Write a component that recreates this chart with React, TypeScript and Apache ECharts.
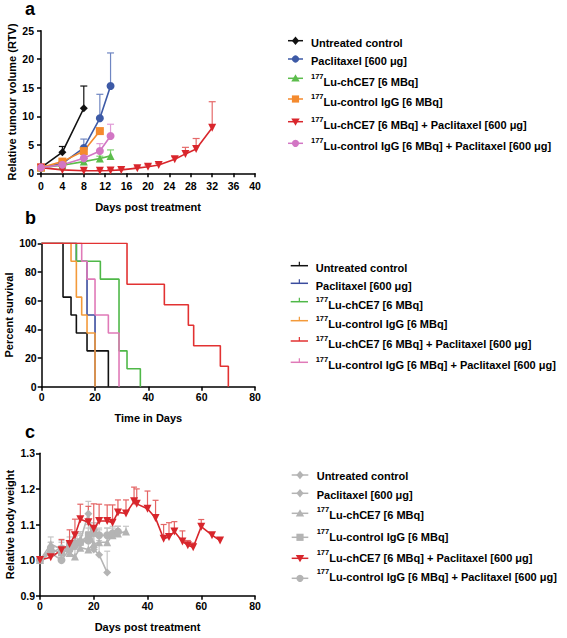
import React, { useEffect, useRef } from "react";
import * as echarts from "echarts";

// ---------- Panel a: relative tumour volume ----------
const daysA = [0, 4, 8, 11, 13];
const untreatedA = [1.0, 3.7, 11.4];
const untreatedAErr = [0.2, 1.0, 3.9];
const paclitaxelA = [1.0, 1.75, 4.45, 9.65, 15.3];
const paclitaxelAErr = [0.1, 0.3, 1.55, 4.2, 5.8];
const chCE7A = [1.0, 1.4, 2.05, 2.6, 3.05];
const chCE7AErr = [0.1, 0.2, 0.5, 0.4, 1.05];
const igGA = [1.0, 2.05, 3.9, 7.4];
const igGAErr = [0.1, 0.3, 0.6, 0.3];
const igGPacA = [1.0, 1.5, 2.65, 3.9, 6.55];
const igGPacAErr = [0.1, 0.2, 0.6, 1.3, 2.05];
const daysRedA = [0, 4, 8, 11, 13, 15, 18, 20, 22, 25, 27, 29, 32];
const chCE7PacA = [1.0, 0.6, 0.45, 0.45, 0.5, 0.6, 0.9, 1.15, 1.45, 2.45, 3.4, 4.25, 8.0];
const chCE7PacAErr = [0.1, 0.1, 0.1, 0.1, 0.1, 0.15, 0.2, 0.3, 0.3, 0.45, 1.15, 1.85, 4.55];
const xTicksA = { min: 0, max: 40, interval: 4 };
const yTicksA = { min: 0, max: 25, interval: 5 };

// ---------- Panel b: Kaplan-Meier survival ----------
const kmUntreatedT = [0, 8, 11, 13, 17, 25];
const kmUntreatedS = [100, 62.5, 50, 37.5, 25, 0];
const kmPaclitaxelT = [0, 13, 17, 20];
const kmPaclitaxelS = [100, 87.5, 50, 0];
const kmChCE7T = [0, 13, 22, 29, 32, 37];
const kmChCE7S = [100, 87.5, 75, 25, 12.5, 0];
const kmIgGT = [0, 11, 13, 15, 17, 20];
const kmIgGS = [100, 87.5, 62.5, 50, 37.5, 0];
const kmChCE7PacT = [0, 32, 46, 55, 57, 67, 70];
const kmChCE7PacS = [100, 71.4, 57.1, 42.9, 28.6, 14.3, 0];
const kmIgGPacT = [0, 15, 17, 20, 25, 29];
const kmIgGPacS = [100, 87.5, 75, 50, 37.5, 0];

// ---------- Panel c: relative body weight ----------
const daysUntreatedC = [0, 4, 8, 11, 13, 15, 18, 20, 22, 25];
const untreatedC = [1.0, 1.03, 1.02, 1.035, 1.04, 1.055, 1.13, 1.03, 1.015, 0.965];
const untreatedCErr = [0.005, 0.02, 0.02, 0.02, 0.02, 0.02, 0.035, 0.06, 0.04, 0.06];
const daysPaclitaxelC = [0, 4, 8, 11, 13, 15, 18, 20];
const paclitaxelC = [1.0, 1.02, 1.035, 1.03, 1.05, 1.05, 1.06, 1.085];
const paclitaxelCErr = [0.005, 0.02, 0.02, 0.02, 0.025, 0.03, 0.03, 0.02];
const daysChCE7C = [0, 4, 8, 11, 13, 15, 18, 20, 22, 25, 27, 29, 32];
const chCE7C = [1.0, 1.045, 1.03, 1.02, 1.01, 1.035, 1.03, 1.045, 1.05, 1.05, 1.07, 1.075, 1.08];
const chCE7CErr = [0.005, 0.02, 0.02, 0.02, 0.02, 0.02, 0.02, 0.03, 0.035, 0.04, 0.02, 0.02, 0.015];
const daysIgGC = [0, 4, 8, 11, 13, 15, 18, 20];
const igGC = [1.0, 1.03, 1.02, 1.04, 1.045, 1.05, 1.07, 1.075];
const igGCErr = [0.005, 0.02, 0.02, 0.025, 0.02, 0.03, 0.03, 0.02];
const daysIgGPacC = [0, 4, 8, 11, 13, 15, 18, 20, 22, 25, 27, 29];
const igGPacC = [1.0, 1.02, 1.0, 1.03, 1.04, 1.05, 1.055, 1.085, 1.07, 1.07, 1.075, 1.08];
const igGPacCErr = [0.005, 0.02, 0.02, 0.02, 0.02, 0.02, 0.025, 0.02, 0.02, 0.02, 0.02, 0.015];
const daysChCE7PacC = [0, 4, 8, 11, 13, 15, 18, 20, 22, 25, 27, 29, 32, 35, 36, 40, 43, 46, 48, 50, 53, 55, 57, 60, 64, 67];
const chCE7PacC = [1.0, 1.008, 1.028, 1.045, 1.07, 1.115, 1.106, 1.088, 1.11, 1.11, 1.105, 1.134, 1.131, 1.165, 1.158, 1.144, 1.118, 1.06, 1.065, 1.08, 1.052, 1.042, 1.036, 1.094, 1.07, 1.055];
const chCE7PacCErr = [0.005, 0.01, 0.03, 0.04, 0.045, 0.042, 0.045, 0.07, 0.047, 0.045, 0.05, 0.035, 0.038, 0.04, 0.042, 0.05, 0.05, 0.04, 0.04, 0.028, 0.03, 0.013, 0.012, 0.02, 0, 0];

// ---------- Legend labels ----------
const groupLabels = [
  "Untreated control",
  "Paclitaxel [600 μg]",
  "{s|177}{t|Lu-chCE7 [6 MBq]}",
  "{s|177}{t|Lu-control IgG [6 MBq]}",
  "{s|177}{t|Lu-chCE7 [6 MBq] + Paclitaxel [600 μg]}",
  "{s|177}{t|Lu-control IgG [6 MBq] + Paclitaxel [600 μg]}",
];

const FONT = 'Arial, "Liberation Sans", Helvetica, sans-serif';
const COL_A = ["#111111", "#3d5aa6", "#5cbd4c", "#f48a2e", "#d9262c", "#d276c4"];
const COL_B = ["#111111", "#3b4c9e", "#4fb848", "#f39a3a", "#e23232", "#e07ab8"];
const GRAY = "#b4b4b4";
const RED_C = "#d8262c";

type Pt = [number, number];
const zip = (xs: number[], ys: number[]): Pt[] => ys.map((y, i) => [xs[i], y]);
const zip3 = (xs: number[], ys: number[], es: number[]) => ys.map((y, i) => [xs[i], y, es[i]]);

function errSeries(idx: number, data: number[][], color: string, cap: number) {
  return {
    type: "custom",
    xAxisIndex: idx,
    yAxisIndex: idx,
    silent: true,
    z: 1,
    encode: { x: 0, y: 1 },
    data,
    renderItem: (_p: any, api: any) => {
      const x = api.value(0);
      const y = api.value(1);
      const e = api.value(2);
      if (!(e > 0)) return null;
      const p0 = api.coord([x, y]);
      const p1 = api.coord([x, y + e]);
      return {
        type: "group",
        children: [
          { type: "line", shape: { x1: p0[0], y1: p0[1], x2: p1[0], y2: p1[1] }, style: { stroke: color, lineWidth: 1.2 } },
          { type: "line", shape: { x1: p1[0] - cap, y1: p1[1], x2: p1[0] + cap, y2: p1[1] }, style: { stroke: color, lineWidth: 1.2 } },
        ],
      };
    },
  };
}

function lineSeries(idx: number, name: string, data: Pt[], color: string, symbol: string, size: number, rotate = 0) {
  return {
    type: "line",
    name,
    xAxisIndex: idx,
    yAxisIndex: idx,
    data,
    symbol,
    symbolSize: size,
    symbolRotate: rotate,
    showAllSymbol: true,
    z: 3,
    lineStyle: { color, width: 1.6 },
    itemStyle: { color, borderWidth: 0 },
  };
}

function kmSeries(name: string, t: number[], s: number[], color: string) {
  return {
    type: "line",
    name,
    xAxisIndex: 1,
    yAxisIndex: 1,
    data: zip(t, s),
    step: "end",
    symbol: "none",
    z: 3,
    lineStyle: { color, width: 1.6 },
  };
}

const axisCommon = {
  type: "value",
  axisLine: { show: true, lineStyle: { color: "#000", width: 1.5 } },
  axisTick: { show: true, inside: false, length: 4, lineStyle: { color: "#000", width: 1.5 } },
  splitLine: { show: false },
  axisLabel: { color: "#000", fontWeight: "bold", fontSize: 10.5, fontFamily: FONT, margin: 5 },
  nameLocation: "middle",
  nameTextStyle: { color: "#000", fontWeight: "bold", fontSize: 11, fontFamily: FONT },
};

// legend helpers
function symbolShape(kind: string, cx: number, cy: number, color: string): any {
  const r = 3.6;
  if (kind === "circle") return { type: "circle", shape: { cx, cy, r }, style: { fill: color } };
  if (kind === "rect") return { type: "rect", shape: { x: cx - r, y: cy - r, width: 2 * r, height: 2 * r }, style: { fill: color } };
  if (kind === "diamond")
    return { type: "polygon", shape: { points: [[cx, cy - 4.2], [cx + 3.6, cy], [cx, cy + 4.2], [cx - 3.6, cy]] }, style: { fill: color } };
  if (kind === "triangle")
    return { type: "polygon", shape: { points: [[cx, cy - 4], [cx + 4.2, cy + 3.2], [cx - 4.2, cy + 3.2]] }, style: { fill: color } };
  if (kind === "invtriangle")
    return { type: "polygon", shape: { points: [[cx - 4.2, cy - 3.2], [cx + 4.2, cy - 3.2], [cx, cy + 4]] }, style: { fill: color } };
  // km tick
  return { type: "line", shape: { x1: cx, y1: cy - 4, x2: cx, y2: cy }, style: { stroke: color, lineWidth: 1.2 } };
}

function legendText(label: string, x: number, y: number): any {
  return {
    type: "text",
    x,
    y,
    style: {
      text: label,
      fill: "#000",
      font: `bold 11px ${FONT}`,
      align: "left",
      verticalAlign: "middle",
      rich: {
        s: { fontSize: 7.5, fontWeight: "bold", fontFamily: FONT, verticalAlign: "top", lineHeight: 6, fill: "#000" },
        t: { fontSize: 11, fontWeight: "bold", fontFamily: FONT, verticalAlign: "bottom", lineHeight: 15, fill: "#000" },
      },
    },
  };
}

function buildLegend(
  markerYs: number[],
  textYs: number[],
  x1: number,
  x2: number,
  tx: number,
  colors: string[],
  kinds: string[]
) {
  const els: any[] = [];
  groupLabels.forEach((lab, i) => {
    const my = markerYs[i];
    els.push({ type: "line", shape: { x1, y1: my, x2, y2: my }, style: { stroke: colors[i], lineWidth: 1.5 } });
    els.push(symbolShape(kinds[i], (x1 + x2) / 2, my, colors[i]));
    const lbl = lab.startsWith("{") ? lab : `{t|${lab}}`;
    els.push(legendText(lbl, tx, textYs[i]));
  });
  return els;
}

export default function App() {
  const ref = useRef<HTMLDivElement>(null);
  useEffect(() => {
    if (!ref.current) return;
    const chart = echarts.init(ref.current, undefined, { renderer: "svg" });
    const kindsA = ["diamond", "circle", "triangle", "rect", "invtriangle", "circle"];
    const kindsC = ["diamond", "diamond", "triangle", "rect", "invtriangle", "circle"];
    const colsC = [GRAY, GRAY, GRAY, GRAY, RED_C, GRAY];

    const option: any = {
      animation: false,
      backgroundColor: "#fff",
      textStyle: { fontFamily: FONT },
      grid: [
        { left: 41, top: 30.7, width: 214, height: 142.6 },
        { left: 41.7, top: 243.3, width: 213.3, height: 143.4 },
        { left: 40, top: 453.3, width: 215, height: 142.4 },
      ],
      xAxis: [
        { ...axisCommon, gridIndex: 0, ...xTicksA, offset: 2, name: "Days post treatment", nameGap: 26 },
        { ...axisCommon, gridIndex: 1, min: 0, max: 80, interval: 20, name: "Time in Days", nameGap: 26 },
        { ...axisCommon, gridIndex: 2, min: 0, max: 80, interval: 20, name: "Days post treatment", nameGap: 26 },
      ],
      yAxis: [
        { ...axisCommon, gridIndex: 0, ...yTicksA, offset: 2, name: "Relative tumour volume (RTV)", nameGap: 22 },
        { ...axisCommon, gridIndex: 1, min: 0, max: 100, interval: 20, name: "Percent survival", nameGap: 27 },
        {
          ...axisCommon,
          gridIndex: 2,
          min: 0.9,
          max: 1.3,
          interval: 0.1,
          name: "Relative body weight",
          nameGap: 25,
          axisLabel: { ...axisCommon.axisLabel, formatter: (v: number) => v.toFixed(1) },
        },
      ],
      series: [
        // panel a error bars
        errSeries(0, zip3(daysA, untreatedA, untreatedAErr), COL_A[0], 3.5),
        errSeries(0, zip3(daysA, paclitaxelA, paclitaxelAErr), "#6f86c2", 3.5),
        errSeries(0, zip3(daysA, chCE7A, chCE7AErr), "#7fcf70", 3.5),
        errSeries(0, zip3(daysA, igGA, igGAErr), "#f6a564", 3.5),
        errSeries(0, zip3(daysRedA, chCE7PacA, chCE7PacAErr), "#e56a6a", 3.5),
        errSeries(0, zip3(daysA, igGPacA, igGPacAErr), "#e09ad6", 3.5),
        // panel a lines
        lineSeries(0, "a0", zip(daysA, untreatedA), COL_A[0], "diamond", 8),
        lineSeries(0, "a1", zip(daysA, paclitaxelA), COL_A[1], "circle", 8),
        lineSeries(0, "a2", zip(daysA, chCE7A), COL_A[2], "triangle", 8),
        lineSeries(0, "a3", zip(daysA, igGA), COL_A[3], "rect", 8),
        lineSeries(0, "a4", zip(daysRedA, chCE7PacA), COL_A[4], "triangle", 8, 180),
        lineSeries(0, "a5", zip(daysA, igGPacA), COL_A[5], "circle", 8),
        // panel b
        kmSeries("b0", kmUntreatedT, kmUntreatedS, COL_B[0]),
        kmSeries("b1", kmPaclitaxelT, kmPaclitaxelS, COL_B[1]),
        kmSeries("b2", kmChCE7T, kmChCE7S, COL_B[2]),
        kmSeries("b3", kmIgGT, kmIgGS, COL_B[3]),
        kmSeries("b5", kmIgGPacT, kmIgGPacS, COL_B[5]),
        kmSeries("b4", kmChCE7PacT, kmChCE7PacS, COL_B[4]),
        // panel c error bars
        errSeries(2, zip3(daysUntreatedC, untreatedC, untreatedCErr), "#c6c6c6", 3),
        errSeries(2, zip3(daysPaclitaxelC, paclitaxelC, paclitaxelCErr), "#c6c6c6", 3),
        errSeries(2, zip3(daysChCE7C, chCE7C, chCE7CErr), "#c6c6c6", 3),
        errSeries(2, zip3(daysIgGC, igGC, igGCErr), "#c6c6c6", 3),
        errSeries(2, zip3(daysIgGPacC, igGPacC, igGPacCErr), "#c6c6c6", 3),
        errSeries(2, zip3(daysChCE7PacC, chCE7PacC, chCE7PacCErr), "#e46464", 3),
        // panel c lines
        lineSeries(2, "c0", zip(daysUntreatedC, untreatedC), GRAY, "diamond", 8),
        lineSeries(2, "c1", zip(daysPaclitaxelC, paclitaxelC), GRAY, "diamond", 8),
        lineSeries(2, "c2", zip(daysChCE7C, chCE7C), GRAY, "triangle", 8),
        lineSeries(2, "c3", zip(daysIgGC, igGC), GRAY, "rect", 7),
        lineSeries(2, "c5", zip(daysIgGPacC, igGPacC), GRAY, "circle", 8),
        lineSeries(2, "c4", zip(daysChCE7PacC, chCE7PacC), RED_C, "triangle", 8, 180),
      ],
      graphic: [
        { type: "text", x: 25, y: 9, style: { text: "a", font: `bold 18px ${FONT}`, fill: "#000", verticalAlign: "middle" } },
        { type: "text", x: 25, y: 218, style: { text: "b", font: `bold 18px ${FONT}`, fill: "#000", verticalAlign: "middle" } },
        { type: "text", x: 25, y: 432, style: { text: "c", font: `bold 18px ${FONT}`, fill: "#000", verticalAlign: "middle" } },
        ...buildLegend(
          [40.7, 59, 78.3, 99, 121.7, 143.3],
          [40.7, 59.3, 79.5, 100, 122.7, 144],
          288,
          303,
          311,
          COL_A,
          kindsA
        ),
        ...buildLegend(
          [265.7, 283.3, 301.7, 320.7, 341, 362.3],
          [265.7, 284, 302.5, 321.7, 342.3, 363.3],
          290.7,
          308,
          315.7,
          COL_B,
          ["tick", "tick", "tick", "tick", "tick", "tick"]
        ),
        ...buildLegend(
          [475, 493.3, 513.3, 537.3, 558.3, 578.3],
          [474, 493.3, 512.5, 534.5, 555.5, 574.5],
          291.7,
          308.3,
          316.7,
          colsC,
          kindsC
        ),
      ],
    };
    chart.setOption(option);
    return () => chart.dispose();
  }, []);
  return (
    <div
      ref={ref}
      style={{ position: "fixed", left: 0, top: 0, width: 567, height: 638, background: "#fff" }}
    />
  );
}
